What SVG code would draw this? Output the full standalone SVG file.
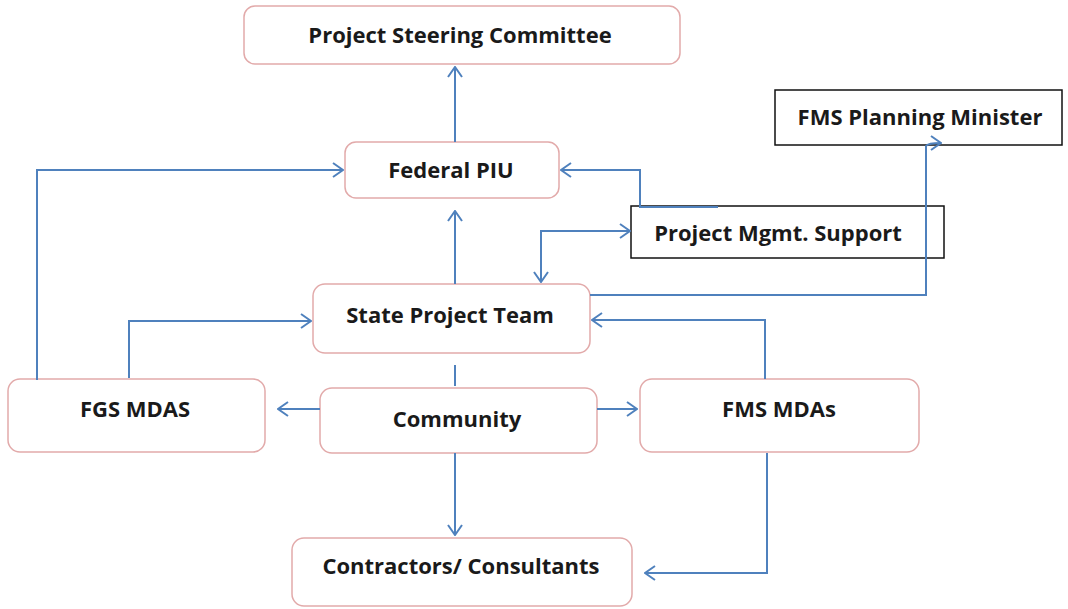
<svg xmlns="http://www.w3.org/2000/svg" width="1068" height="609" viewBox="0 0 1068 609">
  <style>
    .box { fill: #ffffff; stroke: #e2aaaa; stroke-width: 1.5; }
    .sq { fill: #ffffff; stroke: #111111; stroke-width: 1.5; }
    .lbl { font-family: "Open Sans", "Liberation Sans", sans-serif; font-size: 22px; font-weight: bold; fill: #1a1a1a; text-anchor: middle; }
    .wire { fill: none; stroke: #4f81bd; stroke-width: 2; }
  </style>
  <defs>
    <marker id="head" viewBox="0 0 12 16" refX="11" refY="8" markerWidth="12" markerHeight="16" markerUnits="userSpaceOnUse" orient="auto">
      <path d="M1,1 L11,8 L1,15" fill="none" stroke="#4f81bd" stroke-width="2"/>
    </marker>
    <marker id="tail" viewBox="0 0 12 16" refX="11" refY="8" markerWidth="12" markerHeight="16" markerUnits="userSpaceOnUse" orient="auto-start-reverse">
      <path d="M1,1 L11,8 L1,15" fill="none" stroke="#4f81bd" stroke-width="2"/>
    </marker>
  </defs>

  <rect width="1068" height="609" fill="#ffffff"/>

  <g id="steering">
    <rect class="box" x="244" y="6" width="436" height="58" rx="11"/>
    <text class="lbl" x="460" y="43">Project Steering Committee</text>
  </g>
  <g id="federal-piu">
    <rect class="box" x="345" y="142" width="214" height="56" rx="11"/>
    <text class="lbl" x="451" y="178">Federal PIU</text>
  </g>
  <g id="planning-minister">
    <rect class="sq" x="775" y="90" width="287" height="55"/>
    <text class="lbl" x="920" y="125">FMS Planning Minister</text>
  </g>
  <g id="mgmt-support">
    <rect class="sq" x="631" y="206" width="313" height="52"/>
    <text class="lbl" x="778" y="241">Project Mgmt. Support</text>
  </g>
  <g id="state-team">
    <rect class="box" x="313" y="284" width="277" height="69" rx="12"/>
    <text class="lbl" x="450" y="323">State Project Team</text>
  </g>
  <g id="fgs-mdas">
    <rect class="box" x="8" y="379" width="257" height="73" rx="12"/>
    <text class="lbl" x="135" y="417">FGS MDAS</text>
  </g>
  <g id="community">
    <rect class="box" x="320" y="388" width="277" height="65" rx="12"/>
    <text class="lbl" x="457" y="427">Community</text>
  </g>
  <g id="fms-mdas">
    <rect class="box" x="640" y="379" width="279" height="73" rx="12"/>
    <text class="lbl" x="779" y="417">FMS MDAs</text>
  </g>
  <g id="contractors">
    <rect class="box" x="292" y="538" width="340" height="68" rx="12"/>
    <text class="lbl" x="461" y="574">Contractors/ Consultants</text>
  </g>

  <!-- connectors, drawn over the boxes -->
  <g id="connectors">
    <path class="wire" d="M455,142 V67" marker-end="url(#head)"/>
    <path class="wire" d="M455,284 V211" marker-end="url(#head)"/>
    <path class="wire" d="M37,380 V170 H343" marker-end="url(#head)"/>
    <path class="wire" d="M129,378 V321 H311" marker-end="url(#head)"/>
    <path class="wire" d="M765,379 V320 H592" marker-end="url(#head)"/>
    <path class="wire" d="M718,207 H640 V170 H561" marker-end="url(#head)"/>
    <path class="wire" d="M541,282 V231 H630" marker-start="url(#tail)" marker-end="url(#head)"/>
    <path class="wire" d="M590,295 H926 V146 Q928,143 941,143" marker-end="url(#head)"/>
    <path class="wire" d="M320,409 H278" marker-end="url(#head)"/>
    <path class="wire" d="M597,409 H637" marker-end="url(#head)"/>
    <path class="wire" d="M455,365 V386"/>
    <path class="wire" d="M455,453 V535" marker-end="url(#head)"/>
    <path class="wire" d="M767,453 V573 H645" marker-end="url(#head)"/>
  </g>
</svg>
